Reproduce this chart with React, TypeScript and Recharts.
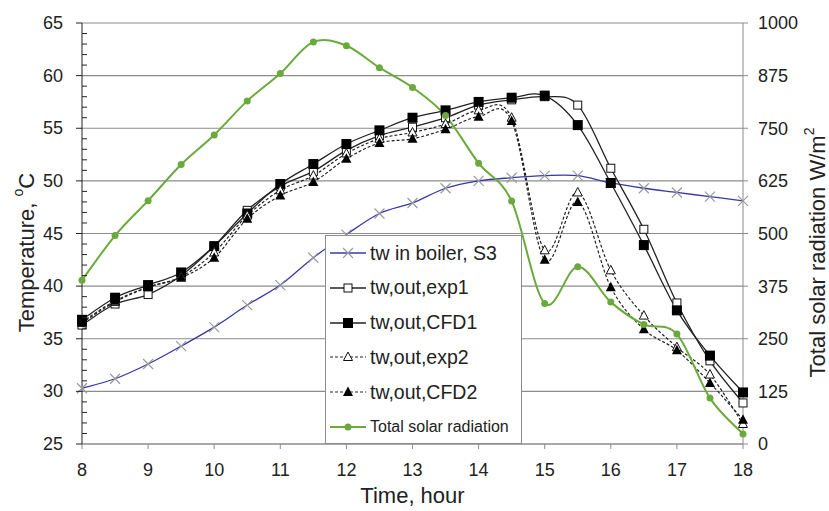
import React from "react";
import { LineChart, Line, XAxis, YAxis, CartesianGrid, Legend } from "recharts";

const hours = [8, 8.5, 9, 9.5, 10, 10.5, 11, 11.5, 12, 12.5, 13, 13.5, 14, 14.5, 15, 15.5, 16, 16.5, 17, 17.5, 18];

const boiler = [30.3, 31.2, 32.6, 34.3, 36.1, 38.2, 40.1, 42.7, 44.9, 46.9, 47.9, 49.3, 50.0, 50.3, 50.5, 50.5, 49.8, 49.3, 48.9, 48.5, 48.1];
const exp1 = [36.3, 38.3, 39.2, 41.0, 43.8, 47.2, 49.5, 50.9, 52.9, 54.3, 55.1, 56.0, 57.2, 57.7, 58.0, 57.2, 51.2, 45.4, 38.4, 32.9, 28.9];
const cfd1 = [36.8, 38.9, 40.1, 41.3, 43.8, 46.9, 49.7, 51.6, 53.5, 54.8, 56.0, 56.7, 57.5, 57.9, 58.1, 55.3, 49.8, 43.9, 37.7, 33.4, 29.9];
const exp2 = [36.5, 38.5, 39.9, 40.9, 43.2, 46.7, 49.1, 50.5, 52.6, 54.0, 54.6, 55.4, 56.7, 56.0, 43.4, 48.9, 41.5, 37.2, 34.2, 31.6, 26.9];
const cfd2 = [36.6, 38.6, 39.9, 40.8, 42.7, 46.4, 48.6, 49.9, 52.1, 53.6, 54.0, 54.9, 56.1, 55.7, 42.5, 48.0, 39.9, 35.9, 33.9, 30.8, 27.3];
const solar = [389, 495, 578, 664, 734, 815, 880, 955, 946, 894, 847, 780, 667, 577, 334, 421, 337, 284, 261, 109, 24];

const xTicks = [8, 9, 10, 11, 12, 13, 14, 15, 16, 17, 18];
const tempTicks = Array.from({ length: 41 }, (_, i) => 25 + i);
const radTicks = [0, 125, 250, 375, 500, 625, 750, 875, 1000];

const data = hours.map((t, i) => ({
  t,
  boiler: boiler[i],
  exp1: exp1[i],
  cfd1: cfd1[i],
  exp2: exp2[i],
  cfd2: cfd2[i],
  solar: solar[i],
}));

const series = [
  { key: "boiler", name: "tw in boiler, S3", axis: "temp", color: "#3838a8", width: 1.3, dash: undefined, shape: "x" },
  { key: "exp1", name: "tw,out,exp1", axis: "temp", color: "#222", width: 1.3, dash: undefined, shape: "sqOpen" },
  { key: "cfd1", name: "tw,out,CFD1", axis: "temp", color: "#222", width: 1.3, dash: undefined, shape: "sqFill" },
  { key: "exp2", name: "tw,out,exp2", axis: "temp", color: "#222", width: 1.2, dash: "3 2", shape: "triOpen" },
  { key: "cfd2", name: "tw,out,CFD2", axis: "temp", color: "#222", width: 1.2, dash: "3 2", shape: "triFill" },
  { key: "solar", name: "Total solar radiation", axis: "rad", color: "#6aaa3c", width: 2, dash: undefined, shape: "dot" },
];

// smoothed line like Excel's "smoothed line" option (Catmull-Rom as beziers)
const smooth = (context: any) => {
  let px: number[] = [];
  let py: number[] = [];
  return {
    areaStart() {},
    areaEnd() {},
    lineStart() {
      px = [];
      py = [];
    },
    point(x: number, y: number) {
      px.push(+x);
      py.push(+y);
    },
    lineEnd() {
      const n = px.length;
      if (!n) return;
      context.moveTo(px[0], py[0]);
      for (let i = 0; i < n - 1; i++) {
        const a = Math.max(i - 1, 0);
        const d = Math.min(i + 2, n - 1);
        context.bezierCurveTo(
          px[i] + (px[i + 1] - px[a]) / 6,
          py[i] + (py[i + 1] - py[a]) / 6,
          px[i + 1] - (px[d] - px[i]) / 6,
          py[i + 1] - (py[d] - py[i]) / 6,
          px[i + 1],
          py[i + 1]
        );
      }
    },
  };
};

const marker = (shape: string, cx: number, cy: number, key?: any) => {
  switch (shape) {
    case "x":
      return (
        <path key={key} d={`M${cx - 5},${cy - 5}L${cx + 5},${cy + 5}M${cx - 5},${cy + 5}L${cx + 5},${cy - 5}`} stroke="#9a9a9a" strokeWidth={1.2} fill="none" />
      );
    case "sqOpen":
      return <rect key={key} x={cx - 4} y={cy - 4} width={8} height={8} fill="#fff" stroke="#111" strokeWidth={1} />;
    case "sqFill":
      return <rect key={key} x={cx - 5} y={cy - 5} width={10} height={10} fill="#000" />;
    case "triOpen":
      return <polygon key={key} points={`${cx},${cy - 5} ${cx + 4.5},${cy + 3.5} ${cx - 4.5},${cy + 3.5}`} fill="#fff" stroke="#111" strokeWidth={1} />;
    case "triFill":
      return <polygon key={key} points={`${cx},${cy - 5.5} ${cx + 5},${cy + 4} ${cx - 5},${cy + 4}`} fill="#000" />;
    default:
      return <circle key={key} cx={cx} cy={cy} r={3.5} fill="#6aaa3c" />;
  }
};

const TempTick = (p: any) => {
  const v = p.payload.value;
  const x = p.x;
  const y = p.y;
  if (v % 5 !== 0) return <line x1={x} x2={x + 5} y1={y} y2={y} stroke="#222" />;
  return (
    <g>
      <line x1={x - 6} x2={x} y1={y} y2={y} stroke="#222" />
      <text x={x - 19} y={y} textAnchor="end" dominantBaseline="central" fontSize={18} fill="#222">
        {v}
      </text>
    </g>
  );
};

const LegendBox = () => (
  <div style={{ position: "relative", width: 197, height: 209, background: "#fff", border: "1px solid #8c8c8c", boxSizing: "border-box" }}>
    {series.map((s, i) => (
      <div key={s.key} style={{ position: "absolute", left: 3, top: 17 + i * 34.8 - 12, height: 24, display: "flex", alignItems: "center" }}>
        <svg width={38} height={24}>
          <line x1={1} x2={37} y1={12} y2={12} stroke={s.color} strokeWidth={s.width} strokeDasharray={s.dash} />
          {marker(s.shape, 19, 12)}
        </svg>
        <span style={{ marginLeft: 3, fontSize: s.key === "solar" ? 16 : 19.5, color: "#222", whiteSpace: "nowrap" }}>{s.name}</span>
      </div>
    ))}
  </div>
);

export default function App() {
  return (
    <div style={{ position: "absolute", left: 0, top: 0, fontFamily: "'Liberation Sans', Arial, sans-serif" }}>
      <LineChart width={829} height={511} data={data} margin={{ top: 23, right: 0, bottom: 0, left: 0 }}>
        <CartesianGrid yAxisId="rad" vertical={false} stroke="#8c8c8c" strokeWidth={1.2} />
        <XAxis
          dataKey="t"
          type="number"
          domain={[8, 18]}
          ticks={xTicks}
          interval={0}
          height={67}
          tickSize={5}
          tickMargin={14}
          stroke="#8c8c8c"
          tick={{ fill: "#222", fontSize: 18 }}
          label={(p: any) => {
            const vb = p.viewBox;
            return (
              <text x={vb.x + vb.width / 2} y={vb.y + 59} textAnchor="middle" fontSize={22} fill="#222">
                Time, hour
              </text>
            );
          }}
        />
        <YAxis
          yAxisId="temp"
          domain={[25, 65]}
          ticks={tempTicks}
          interval={0}
          width={82}
          tickLine={false}
          tickSize={0}
          tickMargin={0}
          tick={<TempTick />}
          axisLine={{ stroke: "#222" }}
          label={(p: any) => {
            const vb = p.viewBox;
            const cx = vb.x + 26;
            const cy = vb.y + vb.height / 2 + 19;
            return (
              <text x={cx} y={cy} transform={`rotate(-90 ${cx} ${cy})`} textAnchor="middle" dominantBaseline="central" fontSize={22} fill="#222">
                Temperature,{" "}
                <tspan fontSize={14} dy={-8}>
                  o
                </tspan>
                <tspan dy={8}>C</tspan>
              </text>
            );
          }}
        />
        <YAxis
          yAxisId="rad"
          orientation="right"
          domain={[0, 1000]}
          ticks={radTicks}
          interval={0}
          width={86}
          tickSize={5}
          tickMargin={10}
          stroke="#8c8c8c"
          tick={{ fill: "#222", fontSize: 18 }}
          label={(p: any) => {
            const vb = p.viewBox;
            const cx = vb.x + 74;
            const cy = vb.y + vb.height / 2 + 19;
            return (
              <text x={cx} y={cy} transform={`rotate(-90 ${cx} ${cy})`} textAnchor="middle" dominantBaseline="central" fontSize={22} fill="#222">
                Total solar radiation W/m
                <tspan fontSize={14} dy={-8}>
                  2
                </tspan>
              </text>
            );
          }}
        />
        <Legend
          layout="vertical"
          align="center"
          verticalAlign="middle"
          content={() => <LegendBox />}
          wrapperStyle={{ left: 325, top: 235, width: 197, height: 209 }}
        />
        {series.map((s) => (
          <Line
            key={s.key}
            yAxisId={s.axis}
            dataKey={s.key}
            name={s.name}
            type={smooth as any}
            stroke={s.color}
            strokeWidth={s.width}
            strokeDasharray={s.dash}
            dot={(p: any) => marker(s.shape, p.cx, p.cy, p.index)}
            activeDot={false}
            isAnimationActive={false}
          />
        ))}
      </LineChart>
    </div>
  );
}
